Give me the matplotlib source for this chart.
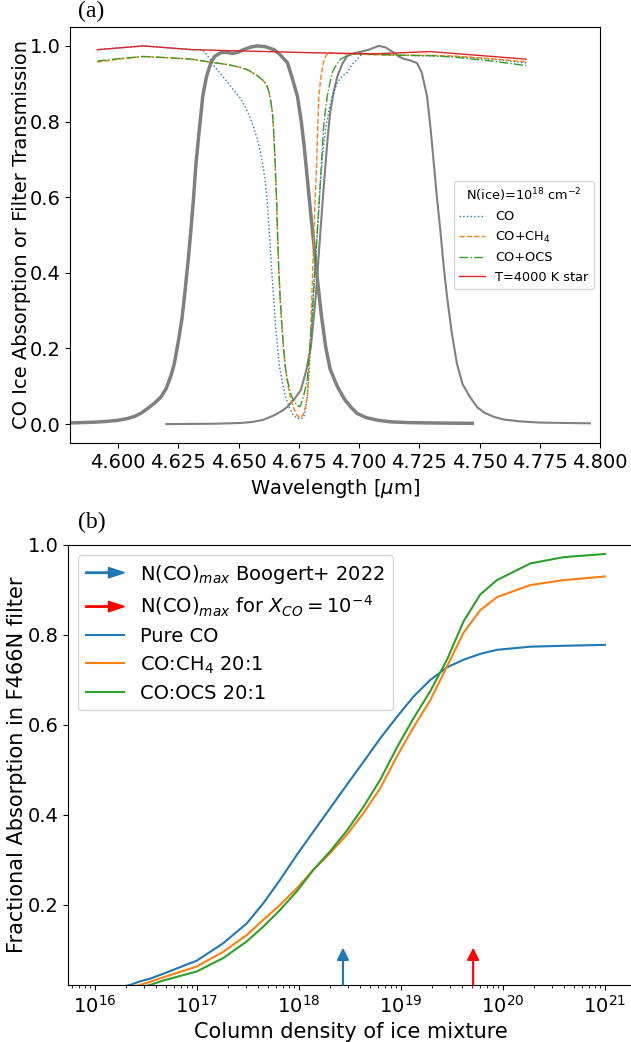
import numpy as np
import matplotlib
matplotlib.use("Agg")
import matplotlib.pyplot as plt
import matplotlib.patches as mpatches
from matplotlib.legend_handler import HandlerPatch

plt.rcParams['font.size'] = 14

# ---- panel (a): filter curves and ice absorption profiles ----
wl_f466 = [4.580, 4.585, 4.590, 4.595, 4.600, 4.604, 4.607, 4.6095, 4.612, 4.615,
           4.6178, 4.620, 4.622, 4.6233, 4.625, 4.6265, 4.6275, 4.629, 4.6302, 4.6313,
           4.6323, 4.6337, 4.6351, 4.6367, 4.6385, 4.640, 4.6426, 4.645, 4.6475, 4.650,
           4.652, 4.655, 4.6578, 4.661, 4.6647, 4.667, 4.6702, 4.672, 4.6744, 4.676,
           4.6772, 4.6785, 4.6799, 4.6813, 4.6827, 4.6843, 4.6861, 4.688, 4.691, 4.694,
           4.697, 4.6992, 4.703, 4.708, 4.713, 4.720, 4.730, 4.747]
tr_f466 = [0.003, 0.004, 0.005, 0.007, 0.010, 0.015, 0.021, 0.029, 0.040, 0.055,
           0.072, 0.095, 0.13, 0.16, 0.22, 0.28, 0.337, 0.43, 0.514, 0.60,
           0.69, 0.78, 0.867, 0.92, 0.956, 0.972, 0.982, 0.983, 0.980, 0.984,
           0.990, 0.997, 1.0, 0.998, 0.990, 0.978, 0.956, 0.92, 0.867, 0.80,
           0.735, 0.65, 0.558, 0.47, 0.382, 0.29, 0.205, 0.145, 0.099, 0.065,
           0.042, 0.028, 0.017, 0.010, 0.006, 0.004, 0.003, 0.002]

wl_f470 = [4.620, 4.630, 4.640, 4.646, 4.651, 4.656, 4.660, 4.662, 4.665, 4.668,
           4.6703, 4.673, 4.6758, 4.678, 4.680, 4.681, 4.682, 4.683, 4.684, 4.685,
           4.6861, 4.687, 4.688, 4.6895, 4.691, 4.693, 4.695, 4.698, 4.7006, 4.704,
           4.7082, 4.711, 4.7144, 4.7165, 4.7185, 4.721, 4.724, 4.726, 4.7282, 4.7297,
           4.731, 4.7323, 4.7337, 4.735, 4.7365, 4.7385, 4.7406, 4.743, 4.746, 4.749,
           4.752, 4.756, 4.760, 4.767, 4.775, 4.785, 4.7958]
tr_f470 = [0.0, 0.0005, 0.001, 0.002, 0.003, 0.006, 0.011, 0.016, 0.024, 0.035,
           0.046, 0.065, 0.09, 0.14, 0.205, 0.27, 0.337, 0.425, 0.514, 0.60,
           0.69, 0.76, 0.824, 0.88, 0.92, 0.952, 0.973, 0.981, 0.984, 0.990,
           1.0, 0.996, 0.982, 0.972, 0.966, 0.962, 0.955, 0.93, 0.867, 0.78,
           0.69, 0.60, 0.514, 0.425, 0.337, 0.24, 0.16, 0.105, 0.072, 0.045,
           0.03, 0.019, 0.012, 0.007, 0.004, 0.003, 0.002]

wl_star = [4.5913, 4.6104, 4.631, 4.68, 4.706, 4.7296, 4.7693]
tr_star = [0.99, 1.0, 0.99, 0.982, 0.979, 0.985, 0.965]

wl_co = [4.5913, 4.6104, 4.631, 4.6351, 4.6375, 4.6397, 4.6425, 4.6454, 4.648, 4.6509,
         4.653, 4.6551, 4.6565, 4.6578, 4.659, 4.6599, 4.6609, 4.6617, 4.6624, 4.6631,
         4.6638, 4.6645, 4.6652, 4.6661, 4.667, 4.6682, 4.6695, 4.6709, 4.6726, 4.6744,
         4.676, 4.6771, 4.6778, 4.6785, 4.6792, 4.6799, 4.6806, 4.6813, 4.682, 4.6827,
         4.6834, 4.6840, 4.685, 4.6861, 4.6875, 4.6889, 4.6910, 4.693, 4.6951, 4.697,
         4.6992, 4.7013, 4.71, 4.72, 4.74, 4.755, 4.7693]
tr_co = [0.99, 1.0, 0.99, 0.99, 0.97, 0.948, 0.926, 0.904, 0.883, 0.86,
         0.835, 0.806, 0.78, 0.753, 0.72, 0.69, 0.65, 0.603, 0.54, 0.47,
         0.40, 0.337, 0.27, 0.205, 0.15, 0.108, 0.072, 0.046, 0.025, 0.015,
         0.014, 0.019, 0.04, 0.072, 0.13, 0.205, 0.29, 0.382, 0.45, 0.514,
         0.58, 0.647, 0.72, 0.78, 0.83, 0.867, 0.904, 0.92, 0.93, 0.95,
         0.965, 0.979, 0.977, 0.975, 0.972, 0.965, 0.955]

wl_ch4 = [4.5913, 4.600, 4.6104, 4.620, 4.6302, 4.6397, 4.646, 4.6509, 4.654, 4.6563,
          4.6585, 4.6604, 4.6617, 4.6625, 4.6633, 4.6640, 4.6644, 4.6647, 4.6651, 4.6654,
          4.6658, 4.6661, 4.6666, 4.6672, 4.6679, 4.6686, 4.6694, 4.6703, 4.6716, 4.6730,
          4.6742, 4.6755, 4.6768, 4.6777, 4.6785, 4.6792, 4.6799, 4.6806, 4.6813, 4.6818,
          4.6824, 4.6828, 4.6833, 4.6842, 4.6852, 4.6862, 4.6875, 4.690, 4.70, 4.71,
          4.72, 4.73, 4.74, 4.755, 4.7693]
tr_ch4 = [0.957, 0.965, 0.972, 0.969, 0.965, 0.956, 0.950, 0.943, 0.936, 0.927,
          0.918, 0.907, 0.895, 0.881, 0.855, 0.824, 0.79, 0.753, 0.70, 0.647,
          0.58, 0.514, 0.42, 0.337, 0.265, 0.205, 0.15, 0.108, 0.066, 0.04,
          0.024, 0.016, 0.025, 0.045, 0.072, 0.15, 0.25, 0.38, 0.514, 0.60,
          0.69, 0.78, 0.867, 0.92, 0.956, 0.974, 0.983, 0.980, 0.978, 0.976,
          0.975, 0.975, 0.973, 0.966, 0.958]

wl_ocs = [4.5913, 4.600, 4.6104, 4.620, 4.6302, 4.6397, 4.646, 4.6509, 4.654, 4.6563,
          4.6585, 4.6604, 4.6617, 4.6625, 4.6633, 4.6640, 4.6644, 4.6647, 4.6651, 4.6654,
          4.6658, 4.6661, 4.6666, 4.6672, 4.6679, 4.6686, 4.6694, 4.6703, 4.6716, 4.6730,
          4.6742, 4.6755, 4.6768, 4.6785, 4.6795, 4.6806, 4.6816, 4.6827, 4.6840, 4.6852,
          4.6860, 4.6868, 4.6878, 4.6889, 4.6905, 4.6923, 4.695, 4.6978, 4.71, 4.72,
          4.73, 4.74, 4.755, 4.7693]
tr_ocs = [0.960, 0.966, 0.972, 0.969, 0.965, 0.956, 0.950, 0.943, 0.936, 0.927,
          0.918, 0.907, 0.895, 0.881, 0.855, 0.824, 0.79, 0.753, 0.70, 0.647,
          0.58, 0.514, 0.42, 0.337, 0.265, 0.205, 0.15, 0.115, 0.08, 0.06,
          0.05, 0.046, 0.07, 0.117, 0.2, 0.293, 0.40, 0.514, 0.647, 0.78,
          0.83, 0.867, 0.90, 0.93, 0.95, 0.965, 0.974, 0.979, 0.977, 0.975,
          0.974, 0.970, 0.960, 0.948]

# ---- panel (b): fractional absorption vs column density ----
logN = [16.0, 16.342, 16.44, 16.539, 16.669, 16.997, 17.258, 17.488, 17.651, 17.815,
        17.978, 18.141, 18.305, 18.469, 18.632, 18.796, 18.96, 19.123, 19.287, 19.451,
        19.613, 19.777, 19.941, 20.268, 20.595, 21.0]
frac_pure = [0.005, 0.022, 0.030, 0.036, 0.047, 0.076, 0.115, 0.159, 0.204, 0.256,
             0.311, 0.363, 0.415, 0.467, 0.518, 0.570, 0.618, 0.663, 0.700, 0.728,
             0.745, 0.758, 0.767, 0.774, 0.776, 0.778]
frac_ch4 = [0.003, 0.016, 0.022, 0.029, 0.039, 0.063, 0.096, 0.133, 0.167, 0.200,
            0.237, 0.278, 0.315, 0.356, 0.404, 0.459, 0.530, 0.595, 0.655, 0.730,
            0.805, 0.855, 0.884, 0.911, 0.922, 0.930]
frac_ocs = [0.002, 0.011, 0.016, 0.022, 0.032, 0.052, 0.082, 0.119, 0.152, 0.189,
            0.230, 0.278, 0.319, 0.365, 0.418, 0.478, 0.550, 0.615, 0.675, 0.745,
            0.830, 0.890, 0.922, 0.959, 0.973, 0.980]

arrow_N = [2.7e18, 5.1e19]
arrow_top = 0.105
arrow_colors = ['C0', 'red']
arrow_labels = [r'N(CO)$_{max}$ Boogert+ 2022', r'N(CO)$_{max}$ for $X_{CO}=10^{-4}$']


def make_legend_arrow(legend, orig_handle, xdescent, ydescent, width, height, fontsize):
    return mpatches.FancyArrow(0, 0.5 * height, width, 0, width=1.0, length_includes_head=True,
                               head_width=7.5, head_length=11.5, lw=0)


W, H = 631, 1042
fig = plt.figure(figsize=(W / 100, H / 100), dpi=100)

ax1 = fig.add_axes([70 / W, 1 - 443 / H, 530 / W, 416 / H])
ax1.plot(wl_f466, tr_f466, color='gray', lw=2.5)
ax1.plot(wl_f470, tr_f470, color='gray', lw=1.5)
ax1.plot(wl_co, tr_co, ':', color='C0', lw=1, label='CO')
ax1.plot(wl_ch4, tr_ch4, '--', color='C1', lw=1, label=r'CO+CH$_4$')
ax1.plot(wl_ocs, tr_ocs, '-.', color='C2', lw=1, label='CO+OCS')
ax1.plot(wl_star, tr_star, '-', color='C3', lw=1, label='T=4000 K star')
ax1.set_xlim(4.58, 4.80)
ax1.set_ylim(-0.05, 1.05)
ax1.set_xticks(np.arange(4.600, 4.8001, 0.025))
ax1.set_xlabel(r'Wavelength [$\mu$m]')
ax1.set_ylabel('CO Ice Absorption or Filter Transmission', labelpad=-1.5)
ax1.legend(loc='center right', fontsize=9.3, title=r'N(ice)=10$^{18}$ cm$^{-2}$',
           title_fontsize=9.3)

ax2 = fig.add_axes([68 / W, 1 - 985 / H, 565 / W, 440 / H])
N = 10 ** np.array(logN)
for xa, c in zip(arrow_N, arrow_colors):
    ax2.annotate('', xy=(xa, arrow_top), xytext=(xa, 0.022),
                 arrowprops=dict(arrowstyle='-|>', color=c, lw=1.5, mutation_scale=18,
                                 shrinkA=0, shrinkB=0))
ax2.plot(N, frac_pure, color='C0', lw=1.5, label='Pure CO')
ax2.plot(N, frac_ch4, color='C1', lw=1.5, label=r'CO:CH$_4$ 20:1')
ax2.plot(N, frac_ocs, color='C2', lw=1.5, label='CO:OCS 20:1')
ax2.set_xscale('log')
ax2.set_xlim(10 ** 15.735, 10 ** 21.275)
ax2.set_ylim(0.022, 1.0)
ax2.set_xlabel('Column density of ice mixture', fontsize=15)
ax2.set_ylabel('Fractional Absorption in F466N filter', fontsize=15, labelpad=0)

arrow_handles = [mpatches.FancyArrow(0, 0, 1, 0, color=c, label=l)
                 for c, l in zip(arrow_colors, arrow_labels)]
line_handles, line_labels = ax2.get_legend_handles_labels()
ax2.legend(arrow_handles + line_handles, arrow_labels + line_labels, loc='upper left',
           fontsize=14, labelspacing=0.42,
           handler_map={mpatches.FancyArrow: HandlerPatch(patch_func=make_legend_arrow)})

fig.text(78 / W, 1 - 11 / H, '(a)', family='Liberation Serif', fontsize=17, va='center')
fig.text(78 / W, 1 - 522 / H, '(b)', family='Liberation Serif', fontsize=17, va='center')

plt.savefig('out.png', dpi=100)
